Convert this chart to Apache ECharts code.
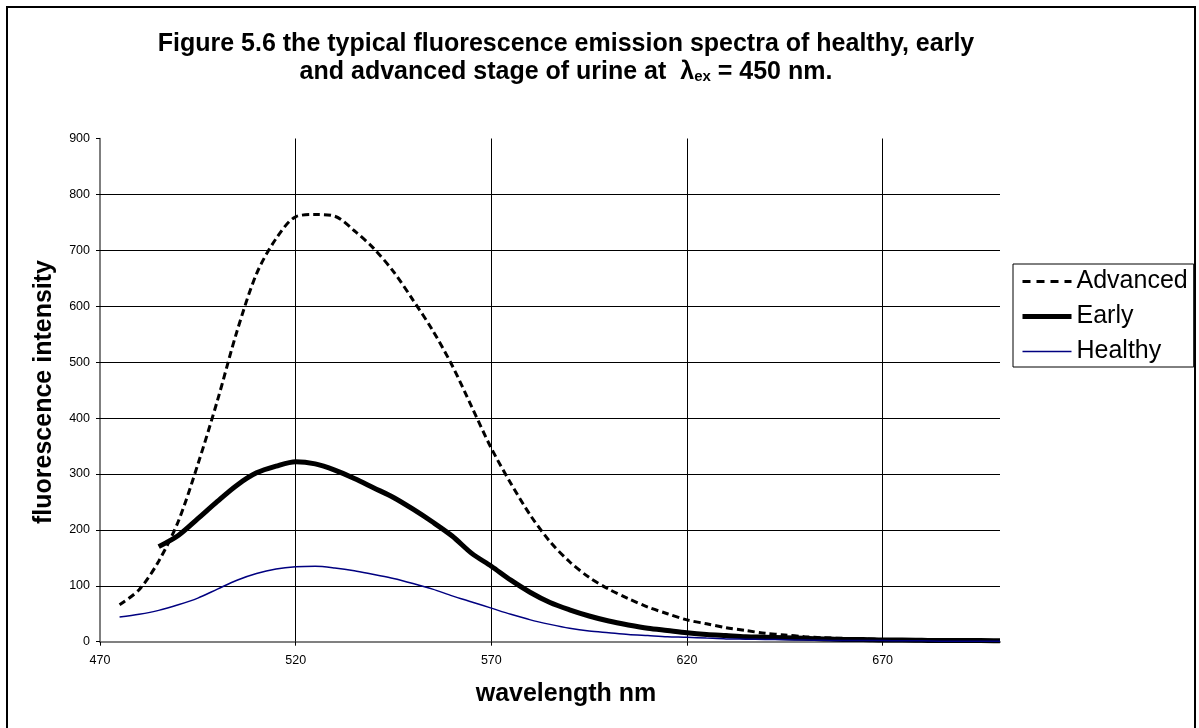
<!DOCTYPE html>
<html>
<head>
<meta charset="utf-8">
<script src="https://cdn.jsdelivr.net/npm/echarts@6/dist/echarts.min.js"></script>
<style>
html,body{margin:0;padding:0;background:#fff;}
#chart{width:1199px;height:728px;}
</style>
</head>
<body>
<div id="chart"></div>
<script>
// ---- data ----
const wavelengths = [475,480,485,490,495,500,505,510,515,520,525,530,535,540,545,550,555,560,565,570,575,580,585,590,595,600,605,610,615,620,625,630,635,640,645,650,655,660,665,670,675,680,685,690,695,700];
const advanced = [66,93,144,215,317,431,555,658,721,760,764,761,735,703,662,611,557,494,420,346,283,226,179,143,115,94,77,62,50,39,32,25,20,15,12,9,7,6,5,4,3.5,3,2.5,2,2,1.5];
const early = [null,null,170,190,220,251,280,302,314,322,318,307,292,275,258,237,214,189,158,135,110,88,70,57,46,37,30,24,20,16,13,11,9,8,7,6,5,4,4,3,3,2.5,2,2,2,1.5];
const healthy = [44,49,56,66,78,94,110,122,130,134,135,132,127,120,113,104,94,82,71,60,49,39,31,24,19,16,13,11,9,8,6.5,5,4.5,4,3.5,3,2.5,2,2,2,1.5,1.5,1,1,1,1];
const seriesNames = ['Advanced','Early','Healthy'];
const xTicks = [470,520,570,620,670];
const yTicks = [0,100,200,300,400,500,600,700,800,900];
const xGridLines = [520,570,620,670];
const yGridLines = [100,200,300,400,500,600,700,800];
const titleLine1 = 'Figure 5.6 the typical fluorescence emission spectra of healthy, early';
const titleLine2 = 'and advanced stage of urine at  λ{sub|ex} = 450 nm.';
const xName = 'wavelength nm';
const yName = 'fluorescence intensity';

const FONT = '"Liberation Sans", Arial, Helvetica, sans-serif';
function pairs(vals){
  const out = [];
  wavelengths.forEach((w,i)=>{ if(vals[i] !== null) out.push([w, vals[i]]); });
  return out;
}

const lineStyles = {
  Advanced:{color:'#000', width:3, type:[7,4]},
  Early:{color:'#000', width:5, type:'solid'},
  Healthy:{color:'#000080', width:1.5, type:'solid'}
};
const legendLineStyles = {
  Advanced:{color:'#000', width:3, type:[8,6]},
  Early:{color:'#000', width:5, type:'solid'},
  Healthy:{color:'#000080', width:1.5, type:'solid'}
};

const chart = echarts.init(document.getElementById('chart'), null, {renderer:'canvas'});
chart.setOption({
  animation:false,
  backgroundColor:'#fff',
  grid:{left:100, top:138.5, right:199, bottom:86.3, containLabel:false},
  xAxis:{
    type:'value', min:470, max:700,
    axisLine:{show:true, onZero:false, lineStyle:{color:'#808080', width:2}},
    axisTick:{show:true, inside:false, length:4, customValues:xTicks, lineStyle:{color:'#000', width:1}},
    axisLabel:{customValues:xTicks, margin:12, color:'#000', fontSize:12.5, fontFamily:FONT},
    splitLine:{show:false}
  },
  yAxis:{
    type:'value', min:0, max:900, interval:100,
    axisLine:{show:true, lineStyle:{color:'#555', width:1.5}},
    axisTick:{show:true, inside:false, length:4, customValues:yTicks, lineStyle:{color:'#000', width:1}},
    axisLabel:{customValues:yTicks, margin:10, color:'#000', fontSize:12.5, fontFamily:FONT},
    splitLine:{show:false}
  },
  legend:{
    data:seriesNames.map(n=>({name:n, lineStyle:legendLineStyles[n], itemStyle:{opacity:0}})),
    orient:'vertical',
    left:1013, top:264,
    padding:[4,6,2,7],
    itemWidth:49, itemHeight:14, itemGap:8,
    itemStyle:{opacity:0},
    borderColor:'#000', borderWidth:1, backgroundColor:'#fff',
    textStyle:{fontSize:25, lineHeight:27, color:'#000', fontFamily:FONT}
  },
  series:[
    {
      name:'grid', type:'line', data:[], z:1, silent:true,
      markLine:{
        silent:true, symbol:['none','none'], label:{show:false},
        lineStyle:{color:'#000', width:1, type:'solid'},
        emphasis:{disabled:true},
        animation:false,
        data: yGridLines.map(v=>({yAxis:v})).concat(xGridLines.map(v=>({xAxis:v})))
      }
    }
  ].concat([advanced, early, healthy].map((vals, i)=>({
      name:seriesNames[i], type:'line', data:pairs(vals), z:3+i,
      symbol:'none', showSymbol:false, smooth:0.3,
      lineStyle:lineStyles[seriesNames[i]],
      itemStyle:{color:lineStyles[seriesNames[i]].color}
  }))),
  graphic:[
    {type:'rect', shape:{x:7, y:7, width:1188, height:760}, style:{fill:null, stroke:'#000', lineWidth:2}, z:100, silent:true},
    {type:'text', x:566, y:44, style:{text:titleLine1, fontSize:25, fontWeight:'bold', fontFamily:FONT, fill:'#000', align:'center', verticalAlign:'middle', textAlign:'center', textVerticalAlign:'middle'}},
    {type:'text', x:566, y:72, style:{text:titleLine2, fontSize:25, fontWeight:'bold', fontFamily:FONT, fill:'#000', lineHeight:24, align:'center', verticalAlign:'middle', textAlign:'center', textVerticalAlign:'middle',
      rich:{sub:{fontSize:15, fontWeight:'bold', fontFamily:FONT, fill:'#000', lineHeight:13, verticalAlign:'bottom'}}}},
    {type:'text', x:566, y:694, style:{text:xName, fontSize:25, fontWeight:'bold', fontFamily:FONT, fill:'#000', align:'center', verticalAlign:'middle', textAlign:'center', textVerticalAlign:'middle'}},
    {type:'text', x:44, y:392, rotation:Math.PI/2, style:{text:yName, fontSize:25, fontWeight:'bold', fontFamily:FONT, fill:'#000', align:'center', verticalAlign:'middle', textAlign:'center', textVerticalAlign:'middle'}}
  ]
});
</script>
</body>
</html>
